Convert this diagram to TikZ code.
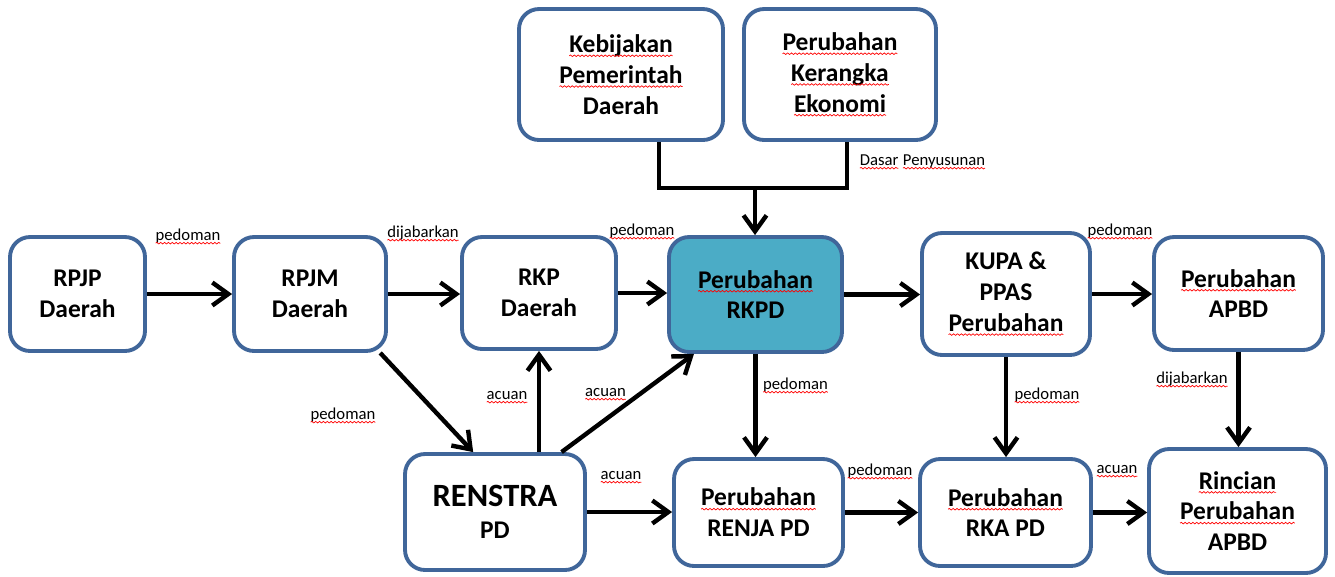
\documentclass[tikz,border=0pt]{standalone}
\usepackage{fontspec}
\setmainfont{Carlito}
\usetikzlibrary{arrows.meta, decorations.pathmorphing}

\definecolor{borde}{HTML}{40669A}
\definecolor{turquesa}{HTML}{4BACC6}
% subrayado ondulado rojo (corrector ortografico)
\newcommand{\ondas}[1]{\tikz[baseline=(w.base), x=1cm, y=1cm, sharp corners]{%
  \node[draw=none, fill=none, inner sep=0pt, outer sep=0pt, minimum width=0pt,
    minimum height=0pt, anchor=base] (w) at (0,0) {#1};
  \draw[red, line width=0.4pt, -, decorate, decoration={snake, amplitude=0.45pt, segment length=2.2pt}]
    ([yshift=-1.8pt]w.base west) -- ([yshift=-1.8pt]w.base east);}}

\begin{document}
\begin{tikzpicture}[x=0.02cm, y=-0.02cm,
    caja/.style={draw=borde, line width=2.2pt, rounded corners=0.4cm, fill=white,
      align=center, inner sep=2pt, font=\bfseries\fontsize{14.5}{17.5}\selectfont},
    etiq/.style={anchor=base, inner sep=1pt, font=\fontsize{9.5}{11}\selectfont},
    linea/.style={line width=2.5pt},
    flecha/.style={linea, -{Straight Barb[length=3.2mm, width=4.6mm]}}]
    \useasboundingbox (0,0) rectangle (1335,576);

    % Cajas de arriba
    \node[caja, minimum width=4.08cm, minimum height=2.62cm] (kebijakan) at (621,74.5)
      {\ondas{Kebijakan}\\\ondas{Pemerintah}\\Daerah};
    \node[caja, minimum width=3.84cm, minimum height=2.62cm] (kerangka) at (840,74.5)
      {\ondas{Perubahan}\\\ondas{Kerangka}\\\ondas{Ekonomi}};

    % Fila central
    \node[caja, minimum width=2.7cm, minimum height=2.28cm] (rpjp) at (77.5,294) {RPJP\\Daerah};
    \node[caja, minimum width=3.04cm, minimum height=2.28cm] (rpjm) at (310,294) {RPJM\\Daerah};
    \node[caja, minimum width=3.08cm, minimum height=2.24cm] (rkp) at (539,293) {RKP\\Daerah};
    \node[caja, fill=turquesa, minimum width=3.46cm, minimum height=2.3cm] (rkpd) at (755.5,294.5)
      {\ondas{Perubahan}\\RKPD};
    \node[caja, minimum width=3.36cm, minimum height=2.44cm] (kupa) at (1006,294)
      {KUPA \&\\PPAS\\\ondas{Perubahan}};
    \node[caja, minimum width=3.38cm, minimum height=2.26cm] (apbd) at (1238.5,293.5)
      {\ondas{Perubahan}\\APBD};

    % Fila de abajo
    \node[caja, minimum width=3.6cm, minimum height=2.32cm] (renstra) at (495,512)
      {{\fontsize{18.5}{19}\selectfont RENSTRA}\\[1pt]PD};
    \node[caja, minimum width=3.38cm, minimum height=2.14cm] (renja) at (758.5,512.5)
      {\ondas{Perubahan}\\RENJA PD};
    \node[caja, minimum width=3.42cm, minimum height=2.14cm] (rka) at (1005.5,512.5)
      {\ondas{Perubahan}\\RKA PD};
    \node[caja, minimum width=3.54cm, minimum height=2.48cm] (rincian) at (1237.5,511)
      {\ondas{Rincian}\\\ondas{Perubahan}\\APBD};

    % Union de las dos cajas de arriba
    \coordinate (izq) at (659,188);
    \coordinate (der) at (847,188);
    \coordinate (mid) at (755,188);
    \draw[linea] (izq |- kebijakan.south) -- (izq) -- (der) -- (der |- kerangka.south);
    \draw[flecha] (mid) -- (mid |- rkpd.north);

    % Flechas
    \draw[flecha] (rpjp.east) -- (rpjm.west);
    \draw[flecha] (rpjm.east) -- (rpjm.east -| rkp.west);
    \draw[flecha] (rkp.east) -- (rkp.east -| rkpd.west);
    \draw[flecha] (rkpd.east) -- (rkpd.east -| kupa.west);
    \draw[flecha] (kupa.east) -- (kupa.east -| apbd.west);
    \draw[flecha] (apbd.south) -- (apbd.south |- rincian.north);
    \draw[flecha] (kupa.south) -- (kupa.south |- rka.north);
    \draw[flecha] (rkpd.south) -- (rkpd.south |- renja.north);
    \draw[flecha] (rpjm.-40) -- (renstra.110);
    \draw[flecha] (rkp.south |- renstra.north) -- (rkp.south);
    \draw[flecha] (renstra.42) -- (rkpd.-136);
    \draw[flecha] (renstra.east) -- (renstra.east -| renja.west);
    \draw[flecha] (renja.east) -- (renja.east -| rka.west);
    \draw[flecha] (rka.east) -- (rka.east -| rincian.west);

    % Etiquetas
    \node[etiq] (dasar) at (922.5,165) {\ondas{Dasar} \ondas{Penyusunan}};
    \node[etiq] (e1) at (188,240) {\ondas{pedoman}};
    \node[etiq] (e2) at (423,237) {\ondas{dijabarkan}};
    \node[etiq] (e3) at (642,235) {\ondas{pedoman}};
    \node[etiq] (e4) at (1120,235) {\ondas{pedoman}};
    \node[etiq] (e5) at (1192,383) {\ondas{dijabarkan}};
    \node[etiq] (e6) at (1047,399) {\ondas{pedoman}};
    \node[etiq] (e7) at (795.5,389) {\ondas{pedoman}};
    \node[etiq] (e8) at (343,419) {\ondas{pedoman}};
    \node[etiq] (e9) at (507,399) {\ondas{acuan}};
    \node[etiq] (e10) at (605.5,396) {\ondas{acuan}};
    \node[etiq] (e11) at (621,479) {\ondas{acuan}};
    \node[etiq] (e12) at (880,475) {\ondas{pedoman}};
    \node[etiq] (e13) at (1117,473) {\ondas{acuan}};
\end{tikzpicture}
\end{document}
